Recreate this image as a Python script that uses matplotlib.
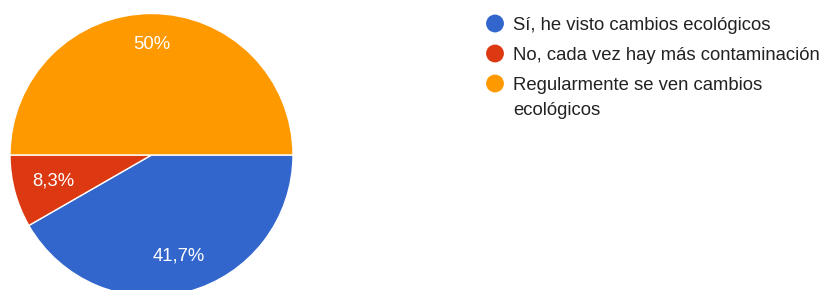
import numpy as np
import matplotlib.pyplot as plt

labels = ["Sí, he visto cambios ecológicos",
          "No, cada vez hay más contaminación",
          "Regularmente se ven cambios\necológicos"]
values = [41.7, 8.3, 50.0]
colors = ["#3366cc", "#dc3912", "#ff9900"]

W, H = 828, 290
plt.rcParams['font.family'] = ['Liberation Sans', 'DejaVu Sans']
fig = plt.figure(figsize=(W / 100, H / 100), dpi=100)

# pie centred at (151.5, 155) px, radius 141.5 px
cx, cy, r = 151.5, 155, 141.5
ax = fig.add_axes([(cx - r) / W, (H - cy - r) / H, 2 * r / W, 2 * r / H])


def fmt(pct):
    s = f"{pct:.1f}".rstrip('0').rstrip('.')
    return s.replace('.', ',') + '%'


wedges, texts, autotexts = ax.pie(values, colors=colors, startangle=0, counterclock=False,
                                  autopct=fmt, pctdistance=0.75, radius=1,
                                  wedgeprops=dict(edgecolor='white', linewidth=1))
# label distance per slice, like google charts puts them
for t, w, d in zip(autotexts, wedges, [0.74, 0.72, 0.78]):
    a = np.deg2rad((w.theta1 + w.theta2) / 2)
    t.set_position((d * np.cos(a), d * np.sin(a)))
    t.set_color('white')
    t.set_fontsize(13.3)
ax.set_xlim(-1, 1)
ax.set_ylim(-1, 1)
ax.set_aspect('equal')

# legend drawn in pixel coords
lg = fig.add_axes([0, 0, 1, 1])
lg.set_xlim(0, W)
lg.set_ylim(H, 0)
lg.axis('off')
y = 23.5
for lab, col in zip(labels, colors):
    lg.scatter([495], [y], s=165, color=col, edgecolors='none')
    for i, line in enumerate(lab.split('\n')):
        lg.text(513, y + 6.5 + 25 * i, line, fontsize=13.3, color='#222222',
                va='baseline')
    y += 30

fig.savefig('out.png', dpi=100)
